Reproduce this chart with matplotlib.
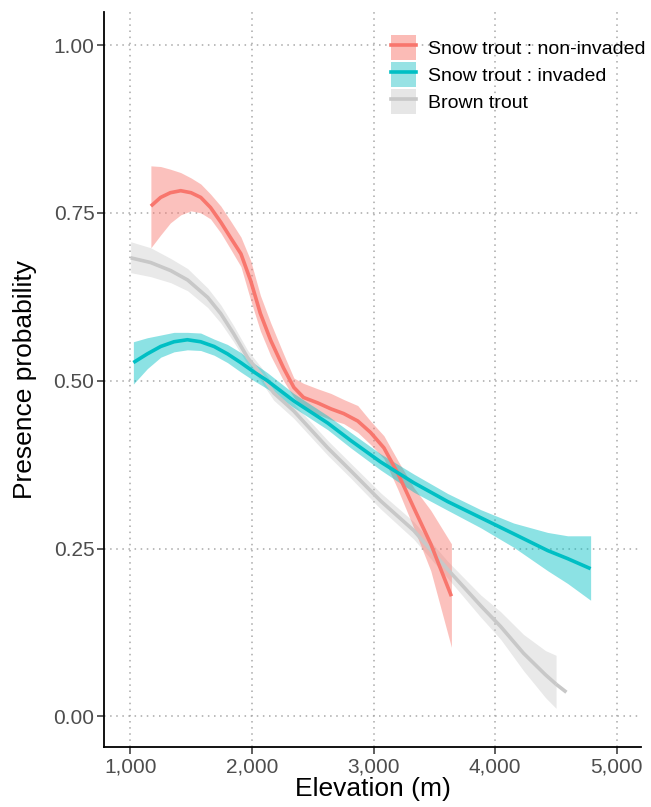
import matplotlib.pyplot as plt
from matplotlib.lines import Line2D
from matplotlib.patches import Patch

plt.rcParams['font.family'] = ['Liberation Sans', 'DejaVu Sans']

# Snow trout, non-invaded (fit line and confidence band)
red_x = [1170, 1250, 1330, 1415, 1500, 1580, 1660, 1745, 1825, 1910, 1990, 2070, 2155,
         2260, 2345, 2425, 2540, 2650, 2755, 2870, 2975, 3085, 3200, 3330, 3470, 3640]
red_y = [0.760, 0.773, 0.780, 0.783, 0.780, 0.773, 0.758, 0.736, 0.713, 0.689, 0.649, 0.600, 0.560,
         0.519, 0.490, 0.475, 0.467, 0.458, 0.451, 0.440, 0.423, 0.400, 0.362, 0.311, 0.257, 0.179]
red_hi = [0.820, 0.819, 0.815, 0.810, 0.802, 0.793, 0.778, 0.760, 0.738, 0.714, 0.679, 0.627, 0.586,
          0.540, 0.504, 0.496, 0.488, 0.481, 0.472, 0.463, 0.440, 0.418, 0.381, 0.341, 0.307, 0.257]
red_lo = [0.698, 0.717, 0.735, 0.747, 0.753, 0.750, 0.741, 0.720, 0.696, 0.670, 0.620, 0.574, 0.537,
          0.500, 0.475, 0.460, 0.450, 0.442, 0.436, 0.423, 0.405, 0.384, 0.338, 0.281, 0.217, 0.103]

# Snow trout, invaded
teal_x = [1026, 1141, 1251, 1360, 1470, 1579, 1689, 1799, 1908, 2017, 2127, 2344, 2623,
          2812, 3058, 3330, 3609, 3880, 4151, 4431, 4595, 4784]
teal_y = [0.527, 0.540, 0.551, 0.558, 0.561, 0.558, 0.551, 0.540, 0.527, 0.513, 0.500, 0.470, 0.437,
          0.411, 0.379, 0.348, 0.320, 0.296, 0.272, 0.247, 0.235, 0.220]
teal_hi = [0.558, 0.564, 0.568, 0.572, 0.572, 0.571, 0.562, 0.554, 0.542, 0.526, 0.512, 0.481, 0.448,
           0.423, 0.391, 0.361, 0.332, 0.308, 0.288, 0.274, 0.269, 0.269]
teal_lo = [0.495, 0.518, 0.535, 0.543, 0.546, 0.545, 0.538, 0.527, 0.513, 0.500, 0.488, 0.460, 0.427,
           0.400, 0.367, 0.334, 0.307, 0.281, 0.252, 0.217, 0.198, 0.173]

# Brown trout
gray_x = [1004, 1168, 1333, 1472, 1637, 1744, 1850, 1966, 2072, 2179, 2344, 2623, 2812,
          3058, 3330, 3609, 3880, 4044, 4233, 4413, 4500]
gray_y = [0.683, 0.676, 0.664, 0.650, 0.624, 0.600, 0.570, 0.534, 0.510, 0.482, 0.455, 0.400, 0.366,
          0.321, 0.277, 0.219, 0.165, 0.134, 0.094, 0.062, 0.048]
gray_hi = [0.707, 0.698, 0.682, 0.667, 0.638, 0.613, 0.582, 0.545, 0.521, 0.493, 0.466, 0.411, 0.377,
           0.333, 0.290, 0.231, 0.181, 0.156, 0.122, 0.098, 0.091]
gray_lo = [0.661, 0.655, 0.646, 0.634, 0.609, 0.586, 0.558, 0.524, 0.500, 0.471, 0.444, 0.389, 0.355,
           0.309, 0.264, 0.206, 0.148, 0.115, 0.068, 0.028, 0.012]
gray_end_x = [4500, 4585]
gray_end_y = [0.048, 0.036]

labels = ['Snow trout : non-invaded', 'Snow trout : invaded', 'Brown trout']
line_colors = ['#F8766D', '#00BFC4', '#C8C8C8']
band_colors = ['#FBBBB6', '#97E2E4', '#E6E6E6']

fig = plt.figure(figsize=(6.51, 8.07), dpi=100)
ax = fig.add_axes([0.160, 0.074, 0.825, 0.911])

series = [(red_x, red_y, red_lo, red_hi),
          (teal_x, teal_y, teal_lo, teal_hi),
          (gray_x, gray_y, gray_lo, gray_hi)]

# gray first so the coloured bands sit on top
for i in [2, 0, 1]:
    x, y, lo, hi = series[i]
    ax.fill_between(x, lo, hi, color=line_colors[i], alpha=0.45 if i < 2 else 0.4, lw=0)
for i in [2, 0, 1]:
    x, y, lo, hi = series[i]
    ax.plot(x, y, color=line_colors[i], lw=2.6, solid_capstyle='butt', solid_joinstyle='round')
    if i == 2:
        ax.plot(gray_end_x, gray_end_y, color=line_colors[i], lw=2.6, solid_capstyle='butt')

ax.set_xlim(786, 5200)
ax.set_ylim(-0.046, 1.049)
ax.set_xticks([1000, 2000, 3000, 4000, 5000])
ax.set_xticklabels(['1,000', '2,000', '3,000', '4,000', '5,000'])
ax.set_yticks([0, 0.25, 0.5, 0.75, 1.0])
ax.set_yticklabels(['0.00', '0.25', '0.50', '0.75', '1.00'])
ax.grid(True, color='#A8A8A8', linestyle=(0, (1, 3)), lw=1.1)
ax.set_axisbelow(True)

for s in ['top', 'right']:
    ax.spines[s].set_visible(False)
for s in ['left', 'bottom']:
    ax.spines[s].set_linewidth(1.3)
ax.tick_params(labelsize=15, colors='#4D4D4D', length=5, width=1.1, pad=2)
ax.tick_params(color='#333333')

ax.set_xlabel('Elevation (m)', fontsize=19, labelpad=1)
ax.set_ylabel('Presence probability', fontsize=19, labelpad=12)

handles = [(Patch(facecolor=band_colors[i], edgecolor='none'),
            Line2D([], [], color=line_colors[i], lw=2.6)) for i in range(3)]
ax.legend(handles, labels, loc='upper left', bbox_to_anchor=(0.52, 0.979),
          frameon=False, fontsize=14, handlelength=1.3, handleheight=1.6,
          handletextpad=0.6, labelspacing=0.1, borderaxespad=0)

fig.savefig('out.png', dpi=100)
